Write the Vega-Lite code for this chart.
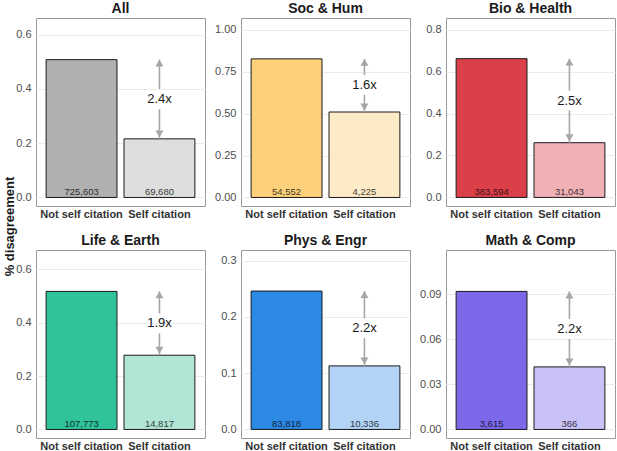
{
  "$schema": "https://vega.github.io/schema/vega-lite/v6.json",
  "padding": {"left": 2, "top": 1, "right": 3, "bottom": 0},
  "bounds": "flush",
  "columns": 3,
  "spacing": {"row": 44, "column": 36},
  "datasets": {
    "rates": [
      {"panel": "All", "type": "Not self citation", "value": 0.508, "n": "725,603"},
      {"panel": "All", "type": "Self citation", "value": 0.216, "n": "69,680", "lo": 0.216, "hi": 0.508, "mid": 0.362, "label": "2.4x"},
      {"panel": "Soc & Hum", "type": "Not self citation", "value": 0.827, "n": "54,552"},
      {"panel": "Soc & Hum", "type": "Self citation", "value": 0.51, "n": "4,225", "lo": 0.51, "hi": 0.827, "mid": 0.672, "label": "1.6x"},
      {"panel": "Bio & Health", "type": "Not self citation", "value": 0.662, "n": "383,594"},
      {"panel": "Bio & Health", "type": "Self citation", "value": 0.261, "n": "31,043", "lo": 0.261, "hi": 0.662, "mid": 0.462, "label": "2.5x"},
      {"panel": "Life & Earth", "type": "Not self citation", "value": 0.517, "n": "107,773"},
      {"panel": "Life & Earth", "type": "Self citation", "value": 0.278, "n": "14,817", "lo": 0.278, "hi": 0.517, "mid": 0.397, "label": "1.9x"},
      {"panel": "Phys & Engr", "type": "Not self citation", "value": 0.246, "n": "83,818"},
      {"panel": "Phys & Engr", "type": "Self citation", "value": 0.113, "n": "10,336", "lo": 0.113, "hi": 0.246, "mid": 0.18, "label": "2.2x"},
      {"panel": "Math & Comp", "type": "Not self citation", "value": 0.092, "n": "3,615"},
      {"panel": "Math & Comp", "type": "Self citation", "value": 0.0417, "n": "366", "lo": 0.0417, "hi": 0.092, "mid": 0.067, "label": "2.2x"}
    ]
  },
  "data": {"name": "rates"},
  "resolve": {"scale": {"color": "independent"}},
  "concat": [
    {
      "title": "All",
      "width": 169, "height": 188,
      "transform": [{"filter": "datum.panel == 'All'"}],
      "encoding": {"x": {"field": "type", "type": "nominal", "sort": null, "scale": {"paddingInner": 0.09, "paddingOuter": 0.13}}},
      "layer": [
        {"mark": {"type": "bar", "stroke": "#1a1a1a", "strokeWidth": 1},
         "encoding": {
           "y": {"field": "value", "type": "quantitative", "title": "% disagreement", "scale": {"domain": [-0.0315, 0.6615], "nice": false, "zero": false},
                 "axis": {"values": [0, 0.2, 0.4, 0.6], "format": ".1f", "titleX": -27, "titleY": 208, "titleAlign": "center", "titleBaseline": "middle"}},
           "color": {"field": "type", "type": "nominal", "scale": {"domain": ["Not self citation", "Self citation"], "range": ["#b0b0b0", "#dedede"]}, "legend": null}}},
        {"mark": {"type": "text", "fontSize": 9.5, "baseline": "alphabetic", "dy": -2, "color": "#000", "opacity": 0.75},
         "encoding": {"y": {"datum": 0, "type": "quantitative"}, "text": {"field": "n"}}},
        {"transform": [{"filter": "isValid(datum.label)"}],
         "layer": [
           {"mark": {"type": "rule", "color": "#a6a6a6", "strokeWidth": 1.6},
            "encoding": {"y": {"field": "lo", "type": "quantitative", "title": "% disagreement"}, "y2": {"field": "hi"}}},
           {"mark": {"type": "point", "shape": "M-0.25,-1H0.25V1H-0.25Z", "filled": true, "color": "white", "opacity": 1, "size": 400, "strokeWidth": 0},
            "encoding": {"y": {"field": "mid", "type": "quantitative", "title": "% disagreement"}}},
           {"mark": {"type": "point", "shape": "triangle-up", "filled": true, "color": "#a6a6a6", "opacity": 1, "size": 64, "yOffset": 3.5},
            "encoding": {"y": {"field": "hi", "type": "quantitative", "title": "% disagreement"}}},
           {"mark": {"type": "point", "shape": "triangle-down", "filled": true, "color": "#a6a6a6", "opacity": 1, "size": 64, "yOffset": -5},
            "encoding": {"y": {"field": "lo", "type": "quantitative", "title": "% disagreement"}}},
           {"mark": {"type": "text", "fontSize": 13, "color": "#1a1a1a"},
            "encoding": {"y": {"field": "mid", "type": "quantitative", "title": "% disagreement"}, "text": {"field": "label"}}}
         ]}
      ]
    },
    {
      "title": "Soc & Hum",
      "width": 169, "height": 188,
      "transform": [{"filter": "datum.panel == 'Soc & Hum'"}],
      "encoding": {"x": {"field": "type", "type": "nominal", "sort": null, "scale": {"paddingInner": 0.09, "paddingOuter": 0.13}}},
      "layer": [
        {"mark": {"type": "bar", "stroke": "#1a1a1a", "strokeWidth": 1},
         "encoding": {
           "y": {"field": "value", "type": "quantitative", "title": null, "scale": {"domain": [-0.051, 1.071], "nice": false, "zero": false},
                 "axis": {"values": [0, 0.25, 0.5, 0.75, 1], "format": ".2f"}},
           "color": {"field": "type", "type": "nominal", "scale": {"domain": ["Not self citation", "Self citation"], "range": ["#fdd07c", "#fdeac6"]}, "legend": null}}},
        {"mark": {"type": "text", "fontSize": 9.5, "baseline": "alphabetic", "dy": -2, "color": "#000", "opacity": 0.75},
         "encoding": {"y": {"datum": 0, "type": "quantitative"}, "text": {"field": "n"}}},
        {"transform": [{"filter": "isValid(datum.label)"}],
         "layer": [
           {"mark": {"type": "rule", "color": "#a6a6a6", "strokeWidth": 1.6},
            "encoding": {"y": {"field": "lo", "type": "quantitative", "title": null}, "y2": {"field": "hi"}}},
           {"mark": {"type": "point", "shape": "M-0.25,-1H0.25V1H-0.25Z", "filled": true, "color": "white", "opacity": 1, "size": 400, "strokeWidth": 0},
            "encoding": {"y": {"field": "mid", "type": "quantitative", "title": null}}},
           {"mark": {"type": "point", "shape": "triangle-up", "filled": true, "color": "#a6a6a6", "opacity": 1, "size": 64, "yOffset": 3.5},
            "encoding": {"y": {"field": "hi", "type": "quantitative", "title": null}}},
           {"mark": {"type": "point", "shape": "triangle-down", "filled": true, "color": "#a6a6a6", "opacity": 1, "size": 64, "yOffset": -5},
            "encoding": {"y": {"field": "lo", "type": "quantitative", "title": null}}},
           {"mark": {"type": "text", "fontSize": 13, "color": "#1a1a1a"},
            "encoding": {"y": {"field": "mid", "type": "quantitative", "title": null}, "text": {"field": "label"}}}
         ]}
      ]
    },
    {
      "title": "Bio & Health",
      "width": 169, "height": 188,
      "transform": [{"filter": "datum.panel == 'Bio & Health'"}],
      "encoding": {"x": {"field": "type", "type": "nominal", "sort": null, "scale": {"paddingInner": 0.09, "paddingOuter": 0.13}}},
      "layer": [
        {"mark": {"type": "bar", "stroke": "#1a1a1a", "strokeWidth": 1},
         "encoding": {
           "y": {"field": "value", "type": "quantitative", "title": null, "scale": {"domain": [-0.041, 0.856], "nice": false, "zero": false},
                 "axis": {"values": [0, 0.2, 0.4, 0.6, 0.8], "format": ".1f"}},
           "color": {"field": "type", "type": "nominal", "scale": {"domain": ["Not self citation", "Self citation"], "range": ["#db4049", "#f0b1b6"]}, "legend": null}}},
        {"mark": {"type": "text", "fontSize": 9.5, "baseline": "alphabetic", "dy": -2, "color": "#000", "opacity": 0.75},
         "encoding": {"y": {"datum": 0, "type": "quantitative"}, "text": {"field": "n"}}},
        {"transform": [{"filter": "isValid(datum.label)"}],
         "layer": [
           {"mark": {"type": "rule", "color": "#a6a6a6", "strokeWidth": 1.6},
            "encoding": {"y": {"field": "lo", "type": "quantitative", "title": null}, "y2": {"field": "hi"}}},
           {"mark": {"type": "point", "shape": "M-0.25,-1H0.25V1H-0.25Z", "filled": true, "color": "white", "opacity": 1, "size": 400, "strokeWidth": 0},
            "encoding": {"y": {"field": "mid", "type": "quantitative", "title": null}}},
           {"mark": {"type": "point", "shape": "triangle-up", "filled": true, "color": "#a6a6a6", "opacity": 1, "size": 64, "yOffset": 3.5},
            "encoding": {"y": {"field": "hi", "type": "quantitative", "title": null}}},
           {"mark": {"type": "point", "shape": "triangle-down", "filled": true, "color": "#a6a6a6", "opacity": 1, "size": 64, "yOffset": -5},
            "encoding": {"y": {"field": "lo", "type": "quantitative", "title": null}}},
           {"mark": {"type": "text", "fontSize": 13, "color": "#1a1a1a"},
            "encoding": {"y": {"field": "mid", "type": "quantitative", "title": null}, "text": {"field": "label"}}}
         ]}
      ]
    },
    {
      "title": "Life & Earth",
      "width": 169, "height": 188,
      "transform": [{"filter": "datum.panel == 'Life & Earth'"}],
      "encoding": {"x": {"field": "type", "type": "nominal", "sort": null, "scale": {"paddingInner": 0.09, "paddingOuter": 0.13}}},
      "layer": [
        {"mark": {"type": "bar", "stroke": "#1a1a1a", "strokeWidth": 1},
         "encoding": {
           "y": {"field": "value", "type": "quantitative", "title": null, "scale": {"domain": [-0.032, 0.672], "nice": false, "zero": false},
                 "axis": {"values": [0, 0.2, 0.4, 0.6], "format": ".1f"}},
           "color": {"field": "type", "type": "nominal", "scale": {"domain": ["Not self citation", "Self citation"], "range": ["#2fc29b", "#b1e6d7"]}, "legend": null}}},
        {"mark": {"type": "text", "fontSize": 9.5, "baseline": "alphabetic", "dy": -2, "color": "#000", "opacity": 0.75},
         "encoding": {"y": {"datum": 0, "type": "quantitative"}, "text": {"field": "n"}}},
        {"transform": [{"filter": "isValid(datum.label)"}],
         "layer": [
           {"mark": {"type": "rule", "color": "#a6a6a6", "strokeWidth": 1.6},
            "encoding": {"y": {"field": "lo", "type": "quantitative", "title": null}, "y2": {"field": "hi"}}},
           {"mark": {"type": "point", "shape": "M-0.25,-1H0.25V1H-0.25Z", "filled": true, "color": "white", "opacity": 1, "size": 400, "strokeWidth": 0},
            "encoding": {"y": {"field": "mid", "type": "quantitative", "title": null}}},
           {"mark": {"type": "point", "shape": "triangle-up", "filled": true, "color": "#a6a6a6", "opacity": 1, "size": 64, "yOffset": 3.5},
            "encoding": {"y": {"field": "hi", "type": "quantitative", "title": null}}},
           {"mark": {"type": "point", "shape": "triangle-down", "filled": true, "color": "#a6a6a6", "opacity": 1, "size": 64, "yOffset": -5},
            "encoding": {"y": {"field": "lo", "type": "quantitative", "title": null}}},
           {"mark": {"type": "text", "fontSize": 13, "color": "#1a1a1a"},
            "encoding": {"y": {"field": "mid", "type": "quantitative", "title": null}, "text": {"field": "label"}}}
         ]}
      ]
    },
    {
      "title": "Phys & Engr",
      "width": 169, "height": 188,
      "transform": [{"filter": "datum.panel == 'Phys & Engr'"}],
      "encoding": {"x": {"field": "type", "type": "nominal", "sort": null, "scale": {"paddingInner": 0.09, "paddingOuter": 0.13}}},
      "layer": [
        {"mark": {"type": "bar", "stroke": "#1a1a1a", "strokeWidth": 1},
         "encoding": {
           "y": {"field": "value", "type": "quantitative", "title": null, "scale": {"domain": [-0.0152, 0.319], "nice": false, "zero": false},
                 "axis": {"values": [0, 0.1, 0.2, 0.3], "format": ".1f"}},
           "color": {"field": "type", "type": "nominal", "scale": {"domain": ["Not self citation", "Self citation"], "range": ["#2c89e4", "#b2d3f5"]}, "legend": null}}},
        {"mark": {"type": "text", "fontSize": 9.5, "baseline": "alphabetic", "dy": -2, "color": "#000", "opacity": 0.75},
         "encoding": {"y": {"datum": 0, "type": "quantitative"}, "text": {"field": "n"}}},
        {"transform": [{"filter": "isValid(datum.label)"}],
         "layer": [
           {"mark": {"type": "rule", "color": "#a6a6a6", "strokeWidth": 1.6},
            "encoding": {"y": {"field": "lo", "type": "quantitative", "title": null}, "y2": {"field": "hi"}}},
           {"mark": {"type": "point", "shape": "M-0.25,-1H0.25V1H-0.25Z", "filled": true, "color": "white", "opacity": 1, "size": 400, "strokeWidth": 0},
            "encoding": {"y": {"field": "mid", "type": "quantitative", "title": null}}},
           {"mark": {"type": "point", "shape": "triangle-up", "filled": true, "color": "#a6a6a6", "opacity": 1, "size": 64, "yOffset": 3.5},
            "encoding": {"y": {"field": "hi", "type": "quantitative", "title": null}}},
           {"mark": {"type": "point", "shape": "triangle-down", "filled": true, "color": "#a6a6a6", "opacity": 1, "size": 64, "yOffset": -5},
            "encoding": {"y": {"field": "lo", "type": "quantitative", "title": null}}},
           {"mark": {"type": "text", "fontSize": 13, "color": "#1a1a1a"},
            "encoding": {"y": {"field": "mid", "type": "quantitative", "title": null}, "text": {"field": "label"}}}
         ]}
      ]
    },
    {
      "title": "Math & Comp",
      "width": 169, "height": 188,
      "transform": [{"filter": "datum.panel == 'Math & Comp'"}],
      "encoding": {"x": {"field": "type", "type": "nominal", "sort": null, "scale": {"paddingInner": 0.09, "paddingOuter": 0.13}}},
      "layer": [
        {"mark": {"type": "bar", "stroke": "#1a1a1a", "strokeWidth": 1},
         "encoding": {
           "y": {"field": "value", "type": "quantitative", "title": null, "scale": {"domain": [-0.0057, 0.1196], "nice": false, "zero": false},
                 "axis": {"values": [0, 0.03, 0.06, 0.09], "format": ".2f"}},
           "color": {"field": "type", "type": "nominal", "scale": {"domain": ["Not self citation", "Self citation"], "range": ["#7b69ea", "#c9c2f7"]}, "legend": null}}},
        {"mark": {"type": "text", "fontSize": 9.5, "baseline": "alphabetic", "dy": -2, "color": "#000", "opacity": 0.75},
         "encoding": {"y": {"datum": 0, "type": "quantitative"}, "text": {"field": "n"}}},
        {"transform": [{"filter": "isValid(datum.label)"}],
         "layer": [
           {"mark": {"type": "rule", "color": "#a6a6a6", "strokeWidth": 1.6},
            "encoding": {"y": {"field": "lo", "type": "quantitative", "title": null}, "y2": {"field": "hi"}}},
           {"mark": {"type": "point", "shape": "M-0.25,-1H0.25V1H-0.25Z", "filled": true, "color": "white", "opacity": 1, "size": 400, "strokeWidth": 0},
            "encoding": {"y": {"field": "mid", "type": "quantitative", "title": null}}},
           {"mark": {"type": "point", "shape": "triangle-up", "filled": true, "color": "#a6a6a6", "opacity": 1, "size": 64, "yOffset": 3.5},
            "encoding": {"y": {"field": "hi", "type": "quantitative", "title": null}}},
           {"mark": {"type": "point", "shape": "triangle-down", "filled": true, "color": "#a6a6a6", "opacity": 1, "size": 64, "yOffset": -5},
            "encoding": {"y": {"field": "lo", "type": "quantitative", "title": null}}},
           {"mark": {"type": "text", "fontSize": 13, "color": "#1a1a1a"},
            "encoding": {"y": {"field": "mid", "type": "quantitative", "title": null}, "text": {"field": "label"}}}
         ]}
      ]
    }
  ],
  "config": {
    "font": "Liberation Sans",
    "view": {"stroke": "#9a9a9a", "strokeWidth": 1},
    "axis": {"labelFontSize": 11, "labelColor": "#4d4d4d", "ticks": false, "domain": false, "gridColor": "#ebebeb", "labelPadding": 5},
    "axisX": {"grid": false, "labelAngle": 0, "labelFontWeight": "bold", "labelColor": "#333333", "labelPadding": 2, "title": null},
    "axisY": {"titleFontSize": 13, "titleFontWeight": "bold", "titleColor": "#1a1a1a"},
    "title": {"fontSize": 14, "fontWeight": "bold", "color": "#1a1a1a", "offset": 2, "anchor": "middle"},
    "legend": {"disable": true}
  }
}
